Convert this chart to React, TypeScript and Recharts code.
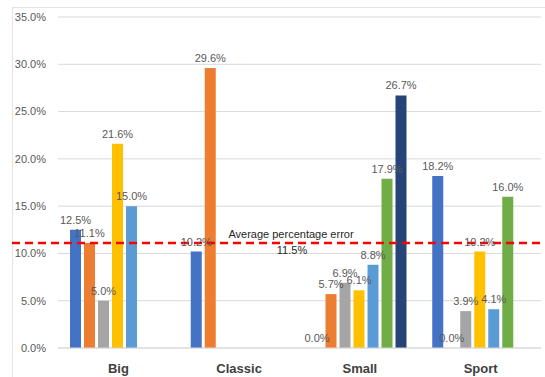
import React from 'react';
import { Bar, BarChart, CartesianGrid, LabelList, ReferenceLine, XAxis, YAxis } from 'recharts';

const categories = ['Big', 'Classic', 'Small', 'Sport'];
const blueValues = [12.5, 10.2, 0.0, 18.2];
const orangeValues = [11.1, 29.6, 5.7, 0.0];
const grayValues = [5.0, null, 6.9, 3.9];
const yellowValues = [21.6, null, 6.1, 10.2];
const lightBlueValues = [15.0, null, 8.8, 4.1];
const greenValues = [null, null, 17.9, 16.0];
const navyValues = [null, null, 26.7, null];
const yTicks = [0, 5, 10, 15, 20, 25, 30, 35];

// where the dashed line sits in the picture, and the text written under it
const avgLinePosition = 11.1;
const avgLabel = 'Average percentage error';
const avgValueText = '11.5%';

const seriesKeys = ['blue', 'orange', 'gray', 'yellow', 'lightBlue', 'green', 'navy'];
const seriesColors = ['#4472C4', '#ED7D31', '#A5A5A5', '#FFC000', '#5B9BD5', '#70AD47', '#264478'];
const seriesValues = [blueValues, orangeValues, grayValues, yellowValues, lightBlueValues, greenValues, navyValues];

const data = categories.map((name, i) => {
  const row: Record<string, any> = { name };
  seriesKeys.forEach((key, s) => {
    row[key] = seriesValues[s][i];
  });
  return row;
});

const FONT = '"Liberation Sans", Arial, sans-serif';

const ValueLabel = (props: any) => {
  const { x, y, width, value } = props;
  if (value === null || value === undefined) return null;
  return (
    <text
      x={Number(x) + Number(width) / 2}
      y={Number(y) - 6}
      textAnchor="middle"
      fontSize={11}
      fontFamily={FONT}
      fill="#595959"
    >
      {`${Number(value).toFixed(1)}%`}
    </text>
  );
};

const AvgLine = (props: any) => {
  const y = props.y1;
  return (
    <g>
      <line x1={12} x2={545} y1={y} y2={y} stroke="#FF0000" strokeWidth={2.5} strokeDasharray="8 5" />
      <text x={291} y={y - 5} textAnchor="middle" fontSize={11} fontFamily={FONT} fill="#262626">
        {avgLabel}
      </text>
      <text x={292} y={y + 11} textAnchor="middle" fontSize={11} fontFamily={FONT} fill="#262626">
        {avgValueText}
      </text>
    </g>
  );
};

// zero values still get a (hairline) bar so their 0.0% label is drawn
const zeroMinSize = (v: any) => (v === 0 ? 0.01 : 0);

const App: React.FC = () => {
  return (
    <div style={{ position: 'absolute', left: 0, top: 0, width: 545, height: 377, overflow: 'hidden', background: '#fff' }}>
      <div
        style={{
          position: 'absolute',
          left: 12,
          top: 7,
          width: 560,
          height: 400,
          border: '1px solid #e3e3e3',
        }}
      />
      <div style={{ position: 'absolute', left: 0, top: 0 }}>
        <BarChart
          width={545}
          height={377}
          data={data}
          margin={{ top: 17, right: 4, left: 0, bottom: 5 }}
          barCategoryGap={12}
          barGap={3}
        >
          <CartesianGrid vertical={false} stroke="#d9d9d9" />
          <XAxis
            dataKey="name"
            height={24}
            tickLine={false}
            axisLine={{ stroke: '#d9d9d9' }}
            tickMargin={10}
            tick={{ fontSize: 13, fontWeight: 'bold', fill: '#404040', fontFamily: FONT }}
          />
          <YAxis
            width={58}
            domain={[0, 35]}
            ticks={yTicks}
            tickFormatter={(v: number) => `${v.toFixed(1)}%`}
            axisLine={false}
            tickLine={false}
            tickMargin={6}
            tick={{ fontSize: 11, fill: '#595959', fontFamily: FONT }}
          />
          {seriesKeys.map((key, s) => (
            <Bar
              key={key}
              dataKey={key}
              fill={seriesColors[s]}
              minPointSize={zeroMinSize}
              isAnimationActive={false}
            >
              <LabelList dataKey={key} content={ValueLabel} />
            </Bar>
          ))}
          <ReferenceLine y={avgLinePosition} shape={AvgLine} ifOverflow="visible" />
        </BarChart>
      </div>
    </div>
  );
};

export default App;
